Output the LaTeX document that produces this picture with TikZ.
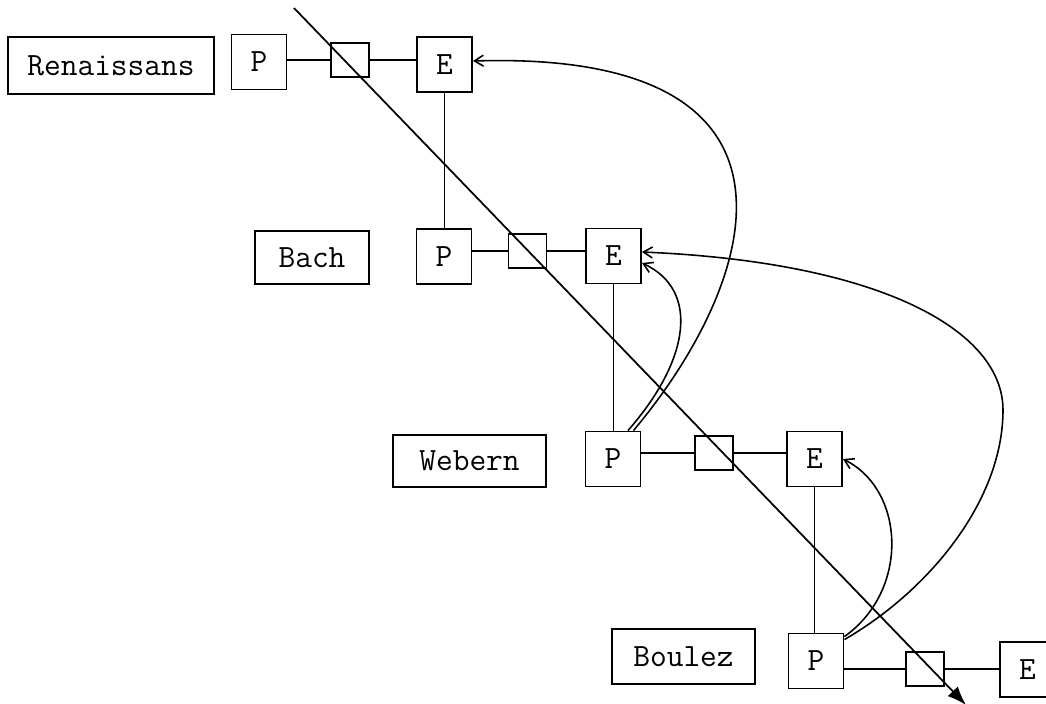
\documentclass[tikz,border=0pt]{standalone}
\usepackage{tikz}
\usetikzlibrary{arrows.meta, positioning}

\begin{document}
\begin{tikzpicture}[x=0.02cm, y=-0.02cm,
		box/.style={draw, line width=1.1pt, inner sep=0pt, font=\fontsize{18.5}{20}\selectfont\ttfamily},
		pebox/.style={box, minimum width=1.1cm, minimum height=1.1cm},
		knot/.style={draw, line width=1.1pt, inner sep=0pt, minimum width=0.76cm, minimum height=0.68cm},
		link/.style={line width=1pt},
		jump/.style={line width=0.9pt, -{Straight Barb[length=1.8mm,width=2.2mm]}}]
	\useasboundingbox (0,0) rectangle (1046,704);
	% Renaissans
	\node[box, minimum width=4.12cm, minimum height=1.14cm] (renaissans) at (111,65.5) {Renaissans};
	\node[pebox] (p1) at (259,62) {P};
	\node[knot] (k1) at (350,60) {};
	\node[pebox] (e1) at (444.5,64.5) {E};
	\draw[link] (p1.east |- k1.west) -- (k1.west);
	\draw[link] (k1.east) -- (e1.west |- k1.east);
	% Bach
	\node[box, minimum width=2.28cm, minimum height=1.06cm] (bach) at (312,257.5) {Bach};
	\node[pebox] (p2) at (444,256.5) {P};
	\node[knot] (k2) at (527.5,251) {};
	\node[pebox] (e2) at (613.5,256) {E};
	\draw[link] (p2.east |- k2.west) -- (k2.west);
	\draw[link] (k2.east) -- (e2.west |- k2.east);
	% Webern
	\node[box, minimum width=3.06cm, minimum height=1.04cm] (webern) at (469.5,461) {Webern};
	\node[pebox] (p3) at (613,459) {P};
	\node[knot] (k3) at (714,453) {};
	\node[pebox] (e3) at (814.5,459) {E};
	\draw[link] (p3.east |- k3.west) -- (k3.west);
	\draw[link] (k3.east) -- (e3.west |- k3.east);
	% Boulez
	\node[box, minimum width=2.86cm, minimum height=1.1cm] (boulez) at (683.5,656.5) {Boulez};
	\node[pebox] (p4) at (816,661) {P};
	\node[knot] (k4) at (925,669) {};
	\node[pebox] (e4) at (1027.5,669.5) {E};
	\draw[link] (p4.east |- k4.west) -- (k4.west);
	\draw[link] (k4.east) -- (e4.west |- k4.east);
	% E to next P
	\draw[link] (e1.south) -- (e1.south |- p2.north);
	\draw[link] (e2.south) -- (e2.south |- p3.north);
	\draw[link] (e3.south) -- (e3.south |- p4.north);
	% time line
	\coordinate (start) at (294,8);
	\coordinate (tip) at (966,705);
	\draw[link, -{Latex[length=3.8mm,width=2.8mm]}] (start) -- (tip);
	% jumps back
	\draw[jump] ([xshift=-0.16cm]p3.north east) .. controls (760,280) and (830,50) .. ([yshift=0.07cm]e1.east);
	\draw[jump] ([xshift=-0.27cm]p3.north east) .. controls (690,360) and (700,290) .. ([yshift=-0.14cm]e2.east);
	\draw[jump] ([yshift=-0.08cm]p4.north east) .. controls (910,590) and (905,490) .. (e3.east);
	\draw[jump] ([yshift=-0.14cm]p4.north east) .. controls (930,590) and (1003,500) .. (1003,410)
		.. controls (1003,330) and (880,262) .. ([yshift=0.08cm]e2.east);
\end{tikzpicture}
\end{document}
